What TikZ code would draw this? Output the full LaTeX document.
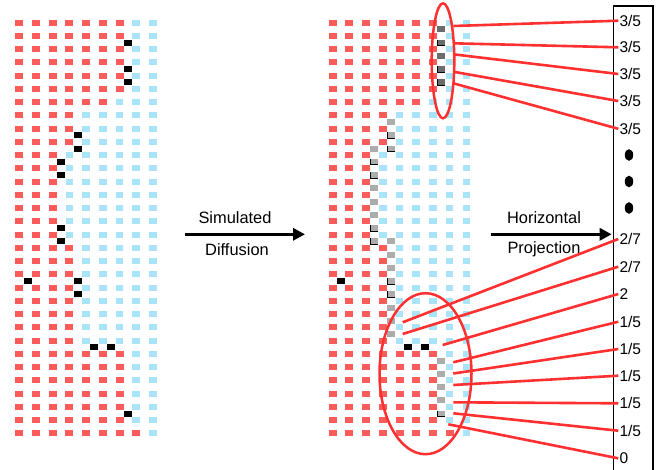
\documentclass[tikz,border=0pt]{standalone}
\usepackage{fontspec}
\setmainfont{Liberation Sans}
\usetikzlibrary{arrows.meta}
\definecolor{cred}{RGB}{250,92,92}
\definecolor{cblue}{RGB}{170,228,248}
\definecolor{gdark}{RGB}{108,108,108}
\definecolor{glight}{RGB}{172,172,172}
\definecolor{ered}{RGB}{255,48,48}
\newcommand\mksq[4]{% x0, c, r, color  (half-grid marker)
  \fill[#4] ({#1+16.7*#2+8.35-4},{22.7+13.25*#3+6.625-3}) rectangle ++(8,6);}
\newcommand\mkbord[3]{% x0, c, r : black L border
  \draw[black,line width=1.1] ({#1+16.7*#2+8.35-4},{22.7+13.25*#3+6.625-3}) -- ++(0,6) -- ++(8,0);}
\begin{document}
\begin{tikzpicture}[x=1pt,y=-1pt,
  redline/.style={ered,line width=2.6},
  bigarrow/.style={line width=3,-{Triangle[length=12pt,width=12pt]}},
  arrtext/.style={font=\fontsize{16.4}{18}\selectfont,inner sep=0},
  lab/.style={font=\fontsize{15.5}{17}\selectfont,anchor=west,inner sep=1pt}]
\useasboundingbox (0,0) rectangle (661,469);
\fill[white] (0,0) rectangle (661,469);
% grids
\foreach \X in {19.3,332.7}{
  \foreach \r/\n in {0/7,1/7,2/7,3/7,4/7,5/7,6/6,7/4,8/4,9/4,10/3,11/3,12/3,13/3,14/3,15/3,16/3,17/4,18/4,19/4,20/4,21/4,22/4,23/4,24/4,25/7,26/7,27/7,28/7,29/7,30/7,31/8}{
    \foreach \c in {0,...,8}{
      \ifnum\c<\n
        \fill[cred] ({\X+16.7*\c-4},{22.7+13.25*\r-3}) rectangle ++(8,6);
      \else
        \fill[cblue] ({\X+16.7*\c-3.75},{22.7+13.25*\r-3}) rectangle ++(7.5,6);
      \fi
    }}}
% left black markers
\foreach \c/\r in {6/1,6/3,6/4,3/8,3/9,2/10,2/11,2/15,2/16,0/19,3/19,3/20,4/24,5/24,6/29}{
  \mksq{19.3}{\c}{\r}{black}}
% right markers
\foreach \c/\r in {6/0,6/1,6/2,6/3,6/4}{\mksq{332.7}{\c}{\r}{gdark}}
\foreach \c/\r in {3/7,3/8,3/9,2/9,2/10,2/11,2/12,2/13,2/14,2/15,2/16,3/16,3/17,3/18,3/19,3/20,3/21,3/22,3/23,6/25,6/26,6/27,6/28,6/29}{\mksq{332.7}{\c}{\r}{glight}}
\foreach \c/\r in {6/1,6/3,6/4,3/8,3/9,2/10,2/11,2/15,2/16,3/19,3/20,6/29}{\mkbord{332.7}{\c}{\r}}
\foreach \c/\r in {0/19,4/24,5/24}{\mksq{332.7}{\c}{\r}{black}}
% arrows
\coordinate (a1s) at (185,234.3);
\coordinate (a1e) at (305,234.3);
\draw[bigarrow] (a1s) -- (a1e);
\node[arrtext] (t1) at (235,218) {Simulated};
\node[arrtext] (t2) at (237,249.5) {Diffusion};
\coordinate (a2s) at (490.7,234.3);
\coordinate (a2e) at (611.7,234.3);
\draw[bigarrow] (a2s) -- (a2e);
\node[arrtext] (t3) at (544,218) {Horizontal};
\node[arrtext] (t4) at (544,249.5) {Projection};
% projection box
\draw[black,line width=1.3] (613.3,475) -- (613.3,6) -- (653,6) -- (653,475);
% labels
\node[lab] (l0) at (618.3,20.7) {3/5};
\node[lab] (l1) at (618.3,47.3) {3/5};
\node[lab] (l2) at (618.3,74) {3/5};
\node[lab] (l3) at (618.3,101) {3/5};
\node[lab] (l4) at (618.3,128.8) {3/5};
\fill (629,155) ellipse (4.2 and 5.8);
\fill (629,181.5) ellipse (4.2 and 5.8);
\fill (629,208) ellipse (4.2 and 5.8);
\node[lab] (m0) at (618.3,239) {2/7};
\node[lab] (m1) at (618.3,266.7) {2/7};
\node[lab] (m2) at (618.3,294) {2};
\node[lab] (m3) at (618.3,321.7) {1/5};
\node[lab] (m4) at (618.3,349) {1/5};
\node[lab] (m5) at (618.3,375.7) {1/5};
\node[lab] (m6) at (618.3,403.3) {1/5};
\node[lab] (m7) at (618.3,430.7) {1/5};
\node[lab] (m8) at (618.3,458.3) {0};
% ellipses
\draw[ered,line width=2.5] (443,60.8) ellipse (11.3 and 57.5);
\draw[ered,line width=2.5] (425.5,373.7) ellipse (46 and 80.5);
% connector starts
\coordinate (s0) at (453.3,26);
\coordinate (s1) at (453.3,43.3);
\coordinate (s2) at (453.3,54.3);
\coordinate (s3) at (453.3,71.7);
\coordinate (s4) at (453.3,83.3);
\coordinate (b0) at (402.7,322.3);
\coordinate (b1) at (402.7,334);
\coordinate (b2) at (442.7,345);
\coordinate (b3) at (453.3,362.3);
\coordinate (b4) at (453.3,373.5);
\coordinate (b5) at (453.3,385);
\coordinate (b6) at (453.3,402.3);
\coordinate (b7) at (453.3,413.3);
\coordinate (b8) at (448.3,424.3);
\draw[redline] (s0) -- (l0.west);
\draw[redline] (s1) -- (l1.west);
\draw[redline] (s2) -- (l2.west);
\draw[redline] (s3) -- (l3.west);
\draw[redline] (s4) -- (l4.west);
\draw[redline] (b0) -- (m0.west);
\draw[redline] (b1) -- (m1.west);
\draw[redline] (b2) -- (m2.west);
\draw[redline] (b3) -- (m3.west);
\draw[redline] (b4) -- (m4.west);
\draw[redline] (b5) -- (m5.west);
\draw[redline] (b6) -- (m6.west);
\draw[redline] (b7) -- (m7.west);
\draw[redline] (b8) -- (m8.west);
\end{tikzpicture}
\end{document}
